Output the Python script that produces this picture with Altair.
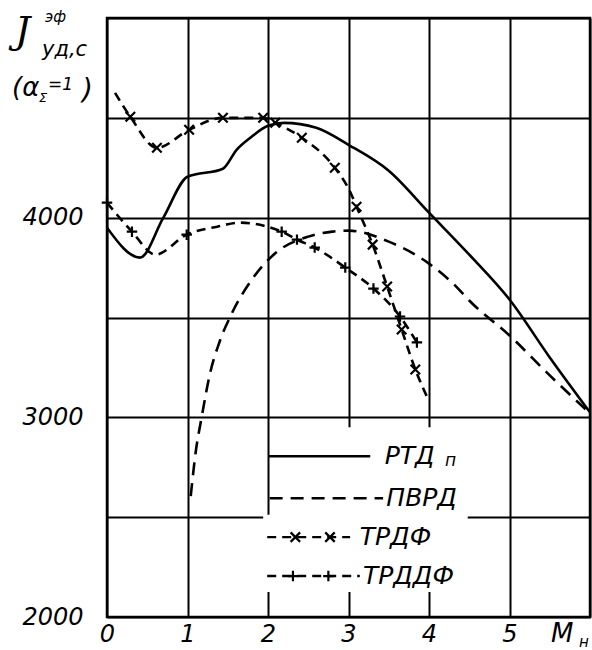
import altair as alt
import pandas as pd

# Effective specific impulse J (s) versus flight Mach number M, alpha_sum = 1

# РТДп (solid)
rtd_m = [0.0, 0.41, 0.7, 1.0, 1.44, 1.61, 1.78, 2.0, 2.2, 2.6, 3.0, 3.5, 4.0, 4.5, 5.0, 5.5, 6.0]
rtd_j = [3950, 3800, 4000, 4205, 4245, 4340, 4400, 4460, 4475, 4450, 4365, 4235, 4025, 3815, 3590, 3300, 3025]

# ПВРД (long dashes)
pvrd_m = [1.04, 1.1, 1.18, 1.28, 1.4, 1.55, 1.8, 2.1, 2.5, 2.8, 3.0, 3.5, 4.0, 4.35, 4.5, 5.0, 5.5, 6.0]
pvrd_j = [2605, 2820, 3010, 3220, 3380, 3520, 3690, 3825, 3905, 3930, 3935, 3880, 3770, 3650, 3585, 3410, 3210, 3020]

# ТРДФ (dashes with x markers)
trdf_m = [0.1, 0.29, 0.62, 1.02, 1.44, 1.94, 2.09, 2.42, 2.83, 3.02, 3.1, 3.3, 3.48, 3.66, 3.83, 3.99]
trdf_j = [4625, 4505, 4350, 4440, 4500, 4500, 4475, 4400, 4250, 4130, 4055, 3865, 3655, 3440, 3240, 3090]
trdf_mark_m = [0.29, 0.62, 1.02, 1.44, 1.94, 2.09, 2.42, 2.83, 3.1, 3.3, 3.48, 3.66, 3.83]
trdf_mark_j = [4505, 4350, 4440, 4500, 4500, 4475, 4400, 4250, 4055, 3865, 3655, 3440, 3240]

# ТРДДФ (dashes with + markers)
trddf_m = [0.0, 0.31, 0.6, 0.99, 1.37, 1.65, 1.99, 2.17, 2.36, 2.58, 2.96, 3.31, 3.64, 3.85]
trddf_j = [4075, 3930, 3815, 3915, 3955, 3975, 3955, 3930, 3890, 3850, 3750, 3645, 3505, 3375]
trddf_mark_m = [0.0, 0.31, 0.99, 2.17, 2.36, 2.58, 2.96, 3.31, 3.64, 3.85]
trddf_mark_j = [4075, 3930, 3915, 3930, 3890, 3850, 3750, 3645, 3505, 3375]

x_ticks = [0, 1, 2, 3, 4, 5, 6]
y_ticks = [2000, 2500, 3000, 3500, 4000, 4500, 5000]

FONT = "DejaVu Sans"
X_SHAPE = "M-1,-1L1,1M-1,1L1,-1"
PLUS_SHAPE = "M-1,0L1,0M0,-1L0,1"

X = alt.X(
    "M:Q",
    scale=alt.Scale(domain=[0, 6], nice=False, zero=False),
    axis=alt.Axis(
        values=x_ticks, grid=True, gridColor="black", gridWidth=2, gridOpacity=1,
        domain=False, ticks=False, title=None, labelFlush=False,
        labelExpr="datum.value == 6 ? '' : datum.label",
        labelFont=FONT, labelFontStyle="italic", labelFontSize=24,
        labelColor="black", labelPadding=5,
    ),
)
Y = alt.Y(
    "J:Q",
    scale=alt.Scale(domain=[2000, 5000], nice=False, zero=False),
    axis=alt.Axis(
        values=y_ticks, grid=True, gridColor="black", gridWidth=2, gridOpacity=1,
        domain=False, ticks=False, title=None, format="d", labelFlush=False,
        labelExpr="(datum.value % 1000 == 0 && datum.value < 5000) ? datum.label : ''",
        labelFont=FONT, labelFontStyle="italic", labelFontSize=24,
        labelColor="black", labelPadding=24,
    ),
)


def line(m, j, dash=None, width=2.6):
    opts = dict(color="black", strokeWidth=width, interpolate="monotone", clip=True)
    if dash:
        opts["strokeDash"] = dash
    return alt.Chart(pd.DataFrame({"M": m, "J": j})).mark_line(**opts).encode(x=X, y=Y)


def markers(m, j, shape, size):
    return alt.Chart(pd.DataFrame({"M": m, "J": j})).mark_point(
        shape=shape, size=size, filled=False, color="black", strokeWidth=2.2, opacity=1
    ).encode(x=X, y=Y)


# white patch behind the legend, cutting the grid there
patch = alt.Chart(pd.DataFrame({
    "M": [1.94, 2.03], "M2": [4.48, 4.48], "J": [2125, 2500], "J2": [2512, 2950],
})).mark_rect(color="white").encode(x=X, x2="M2:Q", y=Y, y2="J2:Q")

# legend rows
leg_y = [2805, 2595, 2400, 2205]
leg_x0 = [2.0, 2.02, 1.99, 1.99]
leg_x1 = [3.27, 3.43, 3.02, 3.14]
leg_text = ["РТД", "ПВРД", "ТРДФ", "ТРДДФ"]
leg_text_x = [3.45, 3.47, 3.14, 3.18]
leg_dash = [None, [13, 8], [9, 6], [9, 6]]

legend_layers = []
for y0, a, b, dash in zip(leg_y, leg_x0, leg_x1, leg_dash):
    legend_layers.append(line([a, b], [y0, y0], dash, width=2.4))
legend_layers.append(markers([2.34, 2.77], [leg_y[2], leg_y[2]], X_SHAPE, 90))
legend_layers.append(markers([2.31, 2.75], [leg_y[3], leg_y[3]], PLUS_SHAPE, 110))
legend_layers.append(
    alt.Chart(pd.DataFrame({"M": leg_text_x, "J": leg_y, "t": leg_text}))
    .mark_text(align="left", baseline="middle", font=FONT, fontStyle="italic",
               fontSize=25, color="black")
    .encode(x=X, y=Y, text="t:N")
)
legend_layers.append(
    alt.Chart(pd.DataFrame({"M": [4.2], "J": [2780], "t": ["п"]}))
    .mark_text(align="left", baseline="middle", font=FONT, fontStyle="italic",
               fontSize=17, color="black")
    .encode(x=X, y=Y, text="t:N")
)


def label(text, px, py, size, font=FONT):
    return alt.Chart(pd.DataFrame({"t": [text]})).mark_text(
        align="left", baseline="alphabetic", font=font, fontStyle="italic",
        fontSize=size, color="black"
    ).encode(x=alt.value(px), y=alt.value(py), text="t:N")


# axis titles (positions relative to the plot origin)
titles = [
    label("J", -92, 25, 38, "DejaVu Serif"),
    label("эф", -62, 4, 15),
    label("уд,с", -65, 38, 21),
    label("(α", -95, 78, 26),
    label("Σ", -68, 84, 13),
    label("=1", -59, 72, 17),
    label(")", -25, 81, 28),
    label("M", 444, 624, 26),
    label("н", 472, 629, 15),
]

chart = alt.layer(
    line(rtd_m, rtd_j),
    line(pvrd_m, pvrd_j, [13, 8]),
    line(trdf_m, trdf_j, [9, 6]),
    line(trddf_m, trddf_j, [9, 6]),
    markers(trdf_mark_m, trdf_mark_j, X_SHAPE, 90),
    markers(trddf_mark_m, trddf_mark_j, PLUS_SHAPE, 110),
    patch,
    *legend_layers,
    *titles,
).properties(
    width=483,
    height=599,
    autosize=alt.AutoSizeParams(type="none"),
    padding={"left": 107, "top": 18, "right": 2, "bottom": 33},
    background="white",
).configure_view(stroke="black", strokeWidth=2.5)

chart.save("out.html", embed_options={"renderer": "svg", "actions": False})
